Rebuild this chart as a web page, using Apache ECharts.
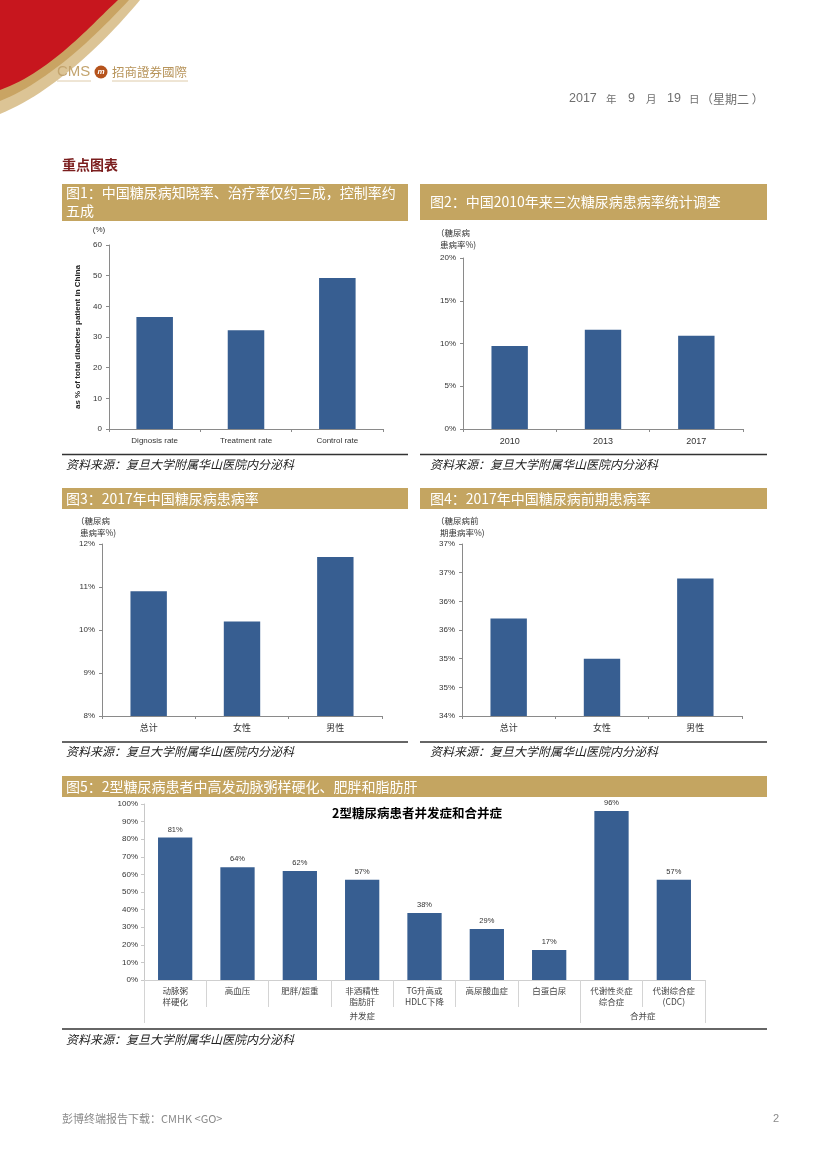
<!DOCTYPE html>
<html><head><meta charset="utf-8">
<script src="https://cdn.jsdelivr.net/npm/echarts@6/dist/echarts.min.js"></script>
<style>html,body{margin:0;padding:0;background:#fff}#c{width:827px;height:1169px}</style>
</head><body><div id="c"></div>
<script>
// ---------- data ----------
const c1Categories = ['Dignosis rate', 'Treatment rate', 'Control rate'];
const c1Values = [36.5, 32.2, 49.2];
const c2Categories = ['2010', '2013', '2017'];
const c2Values = [9.7, 11.6, 10.9];
const c3Categories = ['总计', '女性', '男性'];
const c3Values = [10.9, 10.2, 11.7];
const c4Categories = ['总计', '女性', '男性'];
const c4Values = [35.7, 35.0, 36.4];
const c4TickLabels = ['34%', '35%', '35%', '36%', '36%', '37%', '37%'];
const c5Categories = ['动脉粥\n样硬化', '高血压', '肥胖/超重', '非酒精性\n脂肪肝', 'TG升高或\nHDLC下降', '高尿酸血症', '白蛋白尿', '代谢性炎症\n综合症', '代谢综合症\n(CDC)'];
const c5Values = [81, 64, 62, 57, 38, 29, 17, 96, 57];
const c5Groups = ['并发症', '合并症'];
const c5GroupSpans = [7, 2];

// ---------- helpers ----------
const CJK = '"Noto Sans CJK SC", sans-serif';
const LAT = '"Liberation Sans", Arial, sans-serif';
const GOLD = '#C4A561';
const BAR = '#375E91';
const AX = '#8a8a8a';

const groupBounds = [0];
c5GroupSpans.forEach(s => groupBounds.push(groupBounds[groupBounds.length - 1] + s));
const groupCenters = c5GroupSpans.map((s, i) => groupBounds[i] + s / 2);

function txt(text, x, y, o) {
  o = o || {};
  return {
    type: 'text', x: x, y: y, rotation: o.rotation || 0, z: 10,
    style: {
      text: text, fill: o.fill || '#333',
      fontSize: o.size || 12, fontFamily: o.family || CJK,
      fontWeight: o.weight || 'normal', fontStyle: o.style || 'normal',
      align: o.align || 'left', textAlign: o.align || 'left',
      verticalAlign: 'middle', textVerticalAlign: 'middle'
    }
  };
}
function rect(x, y, w, h, fill) {
  return { type: 'rect', shape: { x: x, y: y, width: w, height: h }, style: { fill: fill }, z: 5 };
}
function hline(x1, x2, y, color, w) {
  return { type: 'line', shape: { x1: x1, y1: y, x2: x2, y2: y }, style: { stroke: color, lineWidth: w }, z: 5 };
}
// swoosh shape: corner + cubic curve sampled into a polygon
function swoosh(topX, c1, c2, leftY, fill, z) {
  const p0 = [topX, 0], p3 = [0, leftY];
  const pts = [[0, 0]];
  for (let i = 0; i <= 30; i++) {
    const t = i / 30, u = 1 - t;
    pts.push([
      u * u * u * p0[0] + 3 * u * u * t * c1[0] + 3 * u * t * t * c2[0] + t * t * t * p3[0],
      u * u * u * p0[1] + 3 * u * u * t * c1[1] + 3 * u * t * t * c2[1] + t * t * t * p3[1]
    ]);
  }
  return { type: 'polygon', shape: { points: pts }, style: { fill: fill }, z: z };
}

const SRC = '资料来源：复旦大学附属华山医院内分泌科';
const DATE_GRAY = '#6f6f6f';

const graphics = [
  // header swoosh
  swoosh(140, [110, 36], [58, 90], 114, '#DCC495', 1),
  swoosh(129, [100, 31], [52, 80], 101, '#C9A463', 2),
  swoosh(118, [90, 26], [50, 72], 90, '#C7161E', 3),
  // logo
  txt('CMS', 57, 72, { size: 15, family: LAT, fill: '#C3A46E' }),
  { type: 'circle', shape: { cx: 101, cy: 72, r: 6.5 }, style: { fill: '#B5531C' }, z: 6 },
  txt('m', 101, 72, { size: 8, family: LAT, fill: '#fff', weight: 'bold', style: 'italic', align: 'center' }),
  txt('招商證券國際', 112, 72, { size: 12.5, fill: '#B8955C' }),
  hline(57, 91, 81, '#D5BE96', 0.8),
  hline(112, 188, 81, '#D5BE96', 0.8),
  // date
  txt('2017', 569, 99, { size: 12.5, family: LAT, fill: DATE_GRAY }),
  txt('年', 606, 99, { size: 10.5, fill: DATE_GRAY }),
  txt('9', 628, 99, { size: 12.5, family: LAT, fill: DATE_GRAY }),
  txt('月', 646, 99, { size: 10.5, fill: DATE_GRAY }),
  txt('19', 667, 99, { size: 12.5, family: LAT, fill: DATE_GRAY }),
  txt('日', 689, 99, { size: 10.5, fill: DATE_GRAY }),
  txt('（星期二 ）', 701, 99, { size: 12, fill: DATE_GRAY }),
  // section title
  txt('重点图表', 62, 165, { size: 14, weight: 'bold', fill: '#7B1E1E' }),
  // figure title bars
  rect(62, 184, 346, 37, GOLD),
  txt('图1：中国糖尿病知晓率、治疗率仅约三成，控制率约', 66, 193, { size: 14, fill: '#fff' }),
  txt('五成', 66, 211, { size: 14, fill: '#fff' }),
  rect(420, 184, 347, 36, GOLD),
  txt('图2：中国2010年来三次糖尿病患病率统计调查', 430, 202, { size: 14, fill: '#fff' }),
  rect(62, 488, 346, 21, GOLD),
  txt('图3：2017年中国糖尿病患病率', 66, 498.5, { size: 14, fill: '#fff' }),
  rect(420, 488, 347, 21, GOLD),
  txt('图4：2017年中国糖尿病前期患病率', 430, 498.5, { size: 14, fill: '#fff' }),
  rect(62, 776, 705, 21, GOLD),
  txt('图5：2型糖尿病患者中高发动脉粥样硬化、肥胖和脂肪肝', 66, 786.5, { size: 14, fill: '#fff' }),
  // axis unit labels
  txt('(%)', 99, 230, { size: 8, family: LAT, align: 'center' }),
  txt('（糖尿病', 436, 233, { size: 8.5 }),
  txt('患病率%)', 440, 245, { size: 8.5 }),
  txt('（糖尿病', 76, 521, { size: 8.5 }),
  txt('患病率%)', 80, 533, { size: 8.5 }),
  txt('（糖尿病前', 436, 521, { size: 8.5 }),
  txt('期患病率%)', 440, 533, { size: 8.5 }),
  // source lines
  hline(62, 408, 454.5, '#333', 1.3), txt(SRC, 66, 464, { size: 12, style: 'italic', fill: '#222' }),
  hline(420, 767, 454.5, '#333', 1.3), txt(SRC, 430, 464, { size: 12, style: 'italic', fill: '#222' }),
  hline(62, 408, 742, '#333', 1.3), txt(SRC, 66, 751, { size: 12, style: 'italic', fill: '#222' }),
  hline(420, 767, 742, '#333', 1.3), txt(SRC, 430, 751, { size: 12, style: 'italic', fill: '#222' }),
  hline(62, 767, 1029, '#333', 1.3), txt(SRC, 66, 1039, { size: 12, style: 'italic', fill: '#222' }),
  // footer
  txt('彭博终端报告下载：CMHK <GO>', 62, 1119, { size: 11, fill: '#8a8a8a' }),
  txt('2', 773, 1119, { size: 11, family: LAT, fill: '#8a8a8a' })
];

function catAxis(grid, data, labelOpt, tickLen) {
  return {
    type: 'category', gridIndex: grid, data: data,
    axisLine: { show: true, lineStyle: { color: AX, width: 1 } },
    axisTick: { show: true, interval: 0, length: tickLen || 3, lineStyle: { color: AX } },
    axisLabel: Object.assign({ interval: 0, color: '#333', fontSize: 8, fontFamily: LAT, margin: 7 }, labelOpt || {}),
    splitLine: { show: false }
  };
}
function valAxis(grid, min, max, interval, formatter, extra) {
  return Object.assign({
    type: 'value', gridIndex: grid, min: min, max: max, interval: interval,
    axisLine: { show: true, lineStyle: { color: AX, width: 1 } },
    axisTick: { show: true, length: 3, lineStyle: { color: AX } },
    axisLabel: { color: '#333', fontSize: 8, fontFamily: LAT, margin: 7, formatter: formatter },
    splitLine: { show: false }
  }, extra || {});
}
function barSeries(x, y, data, width, label) {
  return {
    type: 'bar', xAxisIndex: x, yAxisIndex: y, data: data, barWidth: width,
    itemStyle: { color: BAR }, silent: true, animation: false,
    label: label || { show: false }
  };
}

const option = {
  animation: false,
  backgroundColor: '#fff',
  title: [{
    text: '2型糖尿病患者并发症和合并症', left: 412, top: 802, textAlign: 'center',
    textStyle: { fontSize: 12.5, fontWeight: 'bold', color: '#000', fontFamily: CJK }
  }],
  grid: [
    { left: 109, top: 245, width: 274, height: 184, outerBoundsMode: 'none' },
    { left: 463, top: 258, width: 280, height: 171, outerBoundsMode: 'none' },
    { left: 102, top: 544, width: 280, height: 172, outerBoundsMode: 'none' },
    { left: 462, top: 544, width: 280, height: 172, outerBoundsMode: 'none' },
    { left: 144, top: 804, width: 561, height: 176, outerBoundsMode: 'none' }
  ],
  xAxis: [
    catAxis(0, c1Categories, { fontSize: 8, margin: 8 }),
    catAxis(1, c2Categories, { fontSize: 9, margin: 8 }),
    catAxis(2, c3Categories, { fontSize: 9, fontFamily: CJK, margin: 7 }),
    catAxis(3, c4Categories, { fontSize: 9, fontFamily: CJK, margin: 7 }),
    Object.assign(catAxis(4, c5Categories, { fontSize: 8.5, fontFamily: CJK, margin: 5, lineHeight: 11.5, color: '#444' }, 27),
      { axisLine: { show: true, lineStyle: { color: '#cfcfcf' } }, axisTick: { show: true, interval: 0, length: 27, lineStyle: { color: '#d4d4d4' } } }),
    {
      type: 'value', gridIndex: 4, min: 0, max: groupBounds[groupBounds.length - 1], position: 'bottom',
      axisLine: { show: false }, splitLine: { show: false },
      axisTick: { show: true, customValues: groupBounds, length: 43, lineStyle: { color: '#d4d4d4' } },
      axisLabel: {
        show: true, customValues: groupCenters, margin: 32, fontSize: 8.5, fontFamily: CJK, color: '#444',
        formatter: function (v) { const i = groupCenters.indexOf(v); return i >= 0 ? c5Groups[i] : ''; }
      }
    }
  ],
  yAxis: [
    valAxis(0, 0, 60, 10, '{value}', {
      name: 'as % of total diabetes patient in China', nameLocation: 'middle', nameRotate: 90, nameGap: 27,
      nameTextStyle: { fontSize: 8, fontWeight: 'bold', fontFamily: LAT, color: '#222' }
    }),
    valAxis(1, 0, 20, 5, '{value}%'),
    valAxis(2, 8, 12, 1, '{value}%'),
    valAxis(3, 34, 37, 0.5, function (v, i) { return c4TickLabels[i]; }),
    Object.assign(valAxis(4, 0, 100, 10, '{value}%'), {
      axisLine: { show: true, lineStyle: { color: '#c8c8c8' } },
      axisTick: { show: true, length: 3, lineStyle: { color: '#c8c8c8' } },
      axisLabel: { color: '#333', fontSize: 8, fontFamily: LAT, margin: 6, formatter: '{value}%' }
    })
  ],
  series: [
    barSeries(0, 0, c1Values, '40%'),
    barSeries(1, 1, c2Values, '39%'),
    barSeries(2, 2, c3Values, '39%'),
    barSeries(3, 3, c4Values, '39%'),
    barSeries(4, 4, c5Values, '55%', {
      show: true, position: 'top', distance: 4, formatter: '{c}%',
      fontSize: 7.5, fontFamily: LAT, color: '#333'
    })
  ],
  graphic: { elements: graphics }
};

const chart = echarts.init(document.getElementById('c'), null, { renderer: 'canvas', width: 827, height: 1169 });
chart.setOption(option);
</script>
</body></html>
